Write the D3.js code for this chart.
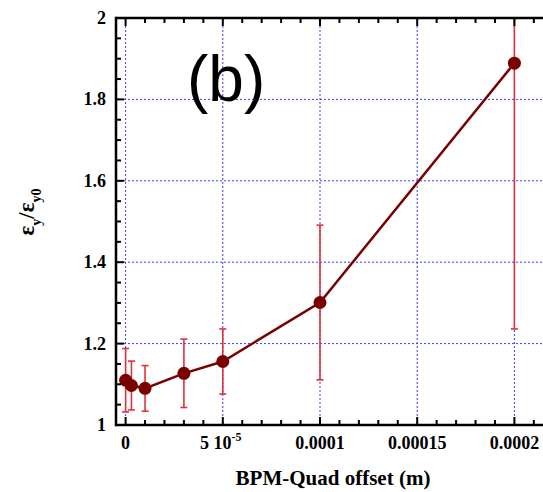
<!DOCTYPE html>
<html>
<head>
<meta charset="utf-8">
<script src="https://cdn.jsdelivr.net/npm/d3@7"></script>
<style>
  body { margin: 0; background: #fff; }
  svg { display: block; }
  text { font-family: "Liberation Serif", "Times New Roman", serif; font-weight: bold; }
</style>
</head>
<body>
<svg id="chart" width="543" height="492"></svg>
<script>
// Data
const offsets = [0, 3e-6, 1e-5, 3e-5, 5e-5, 1e-4, 2e-4];
const ratios  = [1.110, 1.097, 1.090, 1.127, 1.156, 1.301, 1.889];
const errors  = [0.078, 0.060, 0.056, 0.084, 0.080, 0.190, 0.653];
const xTickValues = [0, 5e-5, 1e-4, 1.5e-4, 2e-4];
const xTickLabels = ["0", "5 10^-5", "0.0001", "0.00015", "0.0002"];
const yTickValues = [1, 1.2, 1.4, 1.6, 1.8, 2];
const yTickLabels = ["1", "1.2", "1.4", "1.6", "1.8", "2"];

const svg = d3.select("#chart");
const L = 116, T = 18, B = 425, R = 560;
const x = d3.scaleLinear().domain([0, 2e-4]).range([125.6, 514.4]);
const y = d3.scaleLinear().domain([1, 2]).range([B, T]);

svg.append("clipPath").attr("id", "clip").append("rect")
  .attr("x", L).attr("y", T).attr("width", R - L).attr("height", B - T);

// grid
const grid = svg.append("g").attr("clip-path", "url(#clip)");
xTickValues.forEach(v => {
  grid.append("line").attr("x1", x(v)).attr("x2", x(v)).attr("y1", T).attr("y2", B)
    .attr("stroke", "#3b3bff").attr("stroke-width", 1).attr("stroke-dasharray", "2,2");
});
yTickValues.slice(1, -1).forEach(v => {
  grid.append("line").attr("x1", L).attr("x2", R).attr("y1", y(v)).attr("y2", y(v))
    .attr("stroke", "#3b3bff").attr("stroke-width", 1).attr("stroke-dasharray", "2,2");
});

// error bars
const eb = svg.append("g").attr("clip-path", "url(#clip)");
offsets.forEach((o, i) => {
  const cx = x(o), yt = y(ratios[i] + errors[i]), yb = y(ratios[i] - errors[i]);
  eb.append("line").attr("x1", cx).attr("x2", cx).attr("y1", yt).attr("y2", yb)
    .attr("stroke", "#e0303a").attr("stroke-width", 1.6);
  [yt, yb].forEach(yy => eb.append("line").attr("x1", cx - 3.5).attr("x2", cx + 3.5)
    .attr("y1", yy).attr("y2", yy).attr("stroke", "#e0303a").attr("stroke-width", 1.6));
});

// line
const line = d3.line().x((d, i) => x(offsets[i])).y(d => y(d));
svg.append("path").datum(ratios).attr("d", line).attr("fill", "none")
  .attr("stroke", "#7a0000").attr("stroke-width", 2.5);

// markers
svg.append("g").selectAll("circle").data(ratios).join("circle")
  .attr("cx", (d, i) => x(offsets[i])).attr("cy", d => y(d)).attr("r", 6.5)
  .attr("fill", "#7a0000");

// frame
const frame = svg.append("g");
frame.append("line").attr("x1", L).attr("x2", R).attr("y1", B).attr("y2", B).attr("stroke", "#000").attr("stroke-width", 2.5);
frame.append("line").attr("x1", L).attr("x2", R).attr("y1", T).attr("y2", T).attr("stroke", "#000").attr("stroke-width", 2.5);
frame.append("line").attr("x1", L).attr("x2", L).attr("y1", T - 1.25).attr("y2", B + 1.25).attr("stroke", "#000").attr("stroke-width", 2.5);

const xMinor = d3.range(0, 2.2e-4, 1e-5);
xMinor.forEach((v, i) => {
  const major = i % 5 === 0;
  const len = major ? 8 : 5;
  frame.append("line").attr("x1", x(v)).attr("x2", x(v)).attr("y1", B).attr("y2", B - len).attr("stroke", "#000").attr("stroke-width", 2);
  frame.append("line").attr("x1", x(v)).attr("x2", x(v)).attr("y1", T).attr("y2", T + len).attr("stroke", "#000").attr("stroke-width", 2);
});
const yMinor = d3.range(1, 2.001, 0.05);
yMinor.forEach((v, i) => {
  const major = i % 4 === 0;
  const len = major ? 8 : 5;
  frame.append("line").attr("x1", L).attr("x2", L + len).attr("y1", y(v)).attr("y2", y(v)).attr("stroke", "#000").attr("stroke-width", 2);
});

// y tick labels
yTickValues.forEach((v, i) => {
  svg.append("text").attr("x", 106).attr("y", y(v) + 6).attr("text-anchor", "end")
    .attr("font-size", 18).text(yTickLabels[i]);
});

// x tick labels
xTickValues.forEach((v, i) => {
  const lab = xTickLabels[i];
  const t = svg.append("text").attr("x", x(v)).attr("y", 449).attr("text-anchor", "middle").attr("font-size", 18);
  if (lab.includes("^")) {
    const [base, exp] = lab.split("^");
    t.attr("x", x(v) - 2);
    t.append("tspan").text(base);
    t.append("tspan").attr("dy", -8).attr("font-size", 12).text(exp);
  } else {
    t.text(lab);
  }
});

// x axis title
svg.append("text").attr("x", 333).attr("y", 485).attr("text-anchor", "middle")
  .attr("font-size", 21).text("BPM-Quad offset (m)");

// y axis title
const yt = svg.append("text").attr("transform", "translate(34,212) rotate(-90)")
  .attr("text-anchor", "middle").attr("font-size", 23);
yt.append("tspan").text("ε");
yt.append("tspan").attr("dy", 7).attr("font-size", 14).text("y");
yt.append("tspan").attr("dy", -7).text("/ε");
yt.append("tspan").attr("dy", 7).attr("font-size", 14).text("y0");

// panel label
svg.append("text").attr("x", 187).attr("y", 101).attr("font-size", 64)
  .style("font-family", "'Liberation Sans', Arial, sans-serif")
  .style("font-weight", "normal").text("(b)");
</script>
</body>
</html>
